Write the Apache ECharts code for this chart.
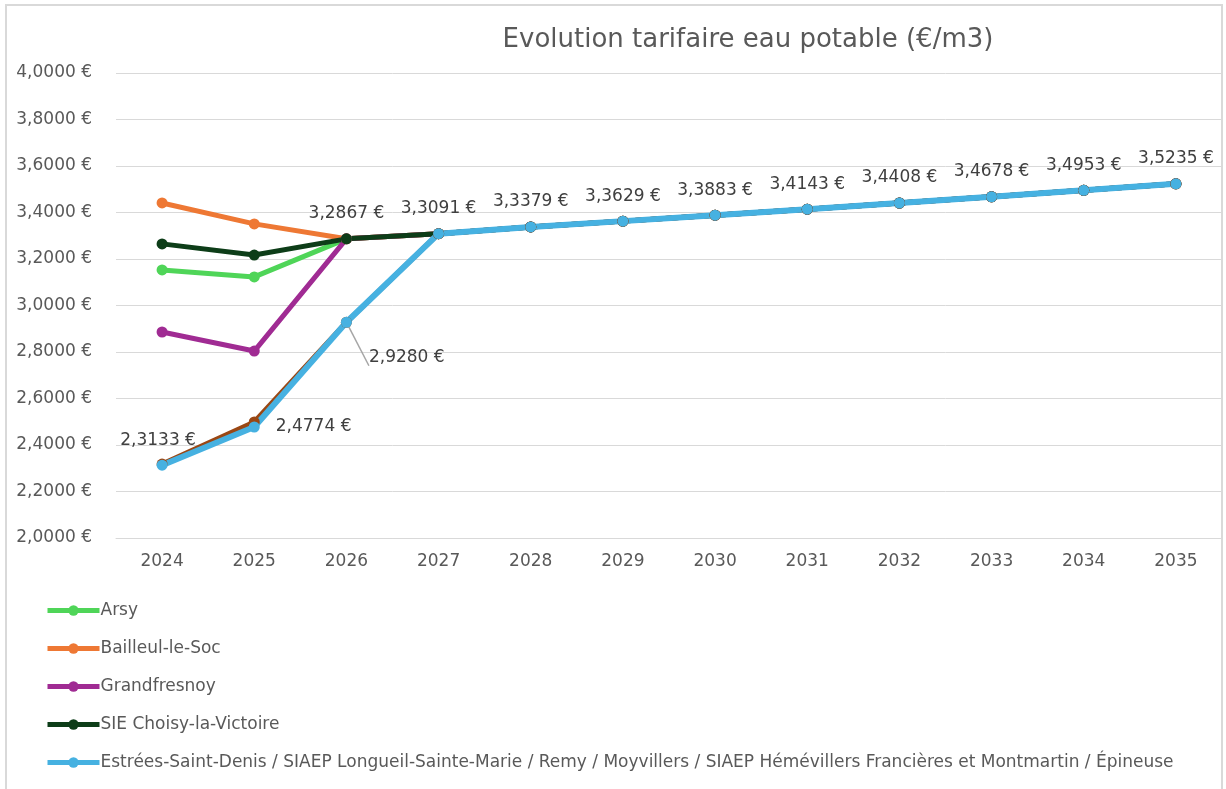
<!DOCTYPE html>
<html>
<head>
<meta charset="utf-8">
<script src="https://cdn.jsdelivr.net/npm/echarts@6/dist/echarts.min.js"></script>
<style>
  html, body { margin: 0; padding: 0; background: #fff; }
  #chart { width: 1226px; height: 789px; }
</style>
</head>
<body>
<div id="chart"></div>
<script>
const years = ["2024", "2025", "2026", "2027", "2028", "2029", "2030", "2031", "2032", "2033", "2034", "2035"];

// common trajectory from 2027 on
const common = [3.3091, 3.3379, 3.3629, 3.3883, 3.4143, 3.4408, 3.4678, 3.4953, 3.5235];

const arsy = [3.153, 3.123, 3.2867].concat(common);
const bailleul = [3.441, 3.351, 3.2867].concat(common);
const grandfresnoy = [2.886, 2.804, 3.2867].concat(common);
const choisy = [3.265, 3.217, 3.2867].concat(common);
const hidden = [2.318, 2.499, 2.928].concat(common);
const estrees = [2.3133, 2.4774, 2.9280].concat(common);

const names = [
  "Arsy",
  "Bailleul-le-Soc",
  "Grandfresnoy",
  "SIE Choisy-la-Victoire",
  "Estrées-Saint-Denis / SIAEP Longueil-Sainte-Marie / Remy / Moyvillers / SIAEP Hémévillers Francières et Montmartin / Épineuse"
];

const txt = "#595959";
const lblFont = "DejaVu Sans";

function fmt(v) {
  return v.toFixed(4).replace(".", ",") + " €";
}

function line(name, data, color, width, extra) {
  return Object.assign({
    name: name,
    type: "line",
    data: data,
    symbol: "circle",
    symbolSize: 11,
    showSymbol: true,
    lineStyle: { color: color, width: width },
    itemStyle: { color: color },
    emphasis: { disabled: true },
    animation: false
  }, extra || {});
}

const dom = document.getElementById("chart");
const chart = echarts.init(dom);

const estreesData = estrees.map((v, i) => {
  if (i === 0) return { value: v, label: { show: true, position: "top", distance: 11, offset: [-4, 0] } };
  if (i === 1) return { value: v, label: { show: true, position: "right", distance: 16 } };
  if (i === 2) return {
    value: v,
    label: { show: true, position: "right", distance: 17, offset: [0, 35] },
    labelLine: { show: true, lineStyle: { color: "#a6a6a6", width: 1.5 } }
  };
  return { value: v, label: { show: true, position: "top", distance: 11 } };
});

const choisyData = choisy.map((v, i) => {
  if (i === 2) return { value: v, label: { show: true, position: "top", distance: 11 } };
  return v;
});

const option = {
  backgroundColor: "#fff",
  title: {
    text: "Evolution tarifaire eau potable (€/m3)",
    left: 743,
    top: 22,
    textAlign: "center",
    textStyle: { color: txt, fontSize: 26, fontWeight: "normal", fontFamily: lblFont }
  },
  legend: {
    data: names,
    orient: "vertical",
    left: 40,
    top: 597,
    itemWidth: 52,
    itemHeight: 13,
    itemGap: 21,
    lineStyle: { width: 5 },
    textStyle: { color: txt, fontSize: 17, fontFamily: lblFont, padding: [0, 0, 0, -4] }
  },
  grid: { left: 116, right: 4, top: 73, bottom: 251 },
  xAxis: {
    type: "category",
    data: years,
    boundaryGap: true,
    axisLine: { lineStyle: { color: "#d9d9d9" } },
    axisTick: { show: false },
    axisLabel: { color: txt, fontSize: 17, fontFamily: lblFont, margin: 15 }
  },
  yAxis: {
    type: "value",
    min: 2,
    max: 4,
    interval: 0.2,
    axisLine: { show: false },
    axisTick: { show: false },
    splitLine: { lineStyle: { color: "#d9d9d9", width: 1 } },
    axisLabel: { color: txt, fontSize: 17, fontFamily: lblFont, margin: 24, formatter: fmt }
  },
  graphic: [{
    type: "rect",
    shape: { x: 6, y: 5, width: 1216, height: 800 },
    style: { fill: "none", stroke: "#d9d9d9", lineWidth: 2 },
    silent: true
  }],
  series: [
    line(names[0], arsy, "#4fd558", 5),
    line(names[1], bailleul, "#ee7834", 5),
    line(names[2], grandfresnoy, "#a02b93", 5),
    line(names[3], choisyData, "#0d3d18", 5, {
      label: { show: false, color: "#404040", fontSize: 17, fontFamily: lblFont, formatter: (p) => fmt(p.value) }
    }),
    line("autre", hidden, "#9a4714", 5),
    line(names[4], estreesData, "#46b1e1", 6, {
      label: { show: false, color: "#404040", fontSize: 17, fontFamily: lblFont, formatter: (p) => fmt(p.value) },
      labelLine: { show: false }
    })
  ]
};

chart.setOption(option);
</script>
</body>
</html>
